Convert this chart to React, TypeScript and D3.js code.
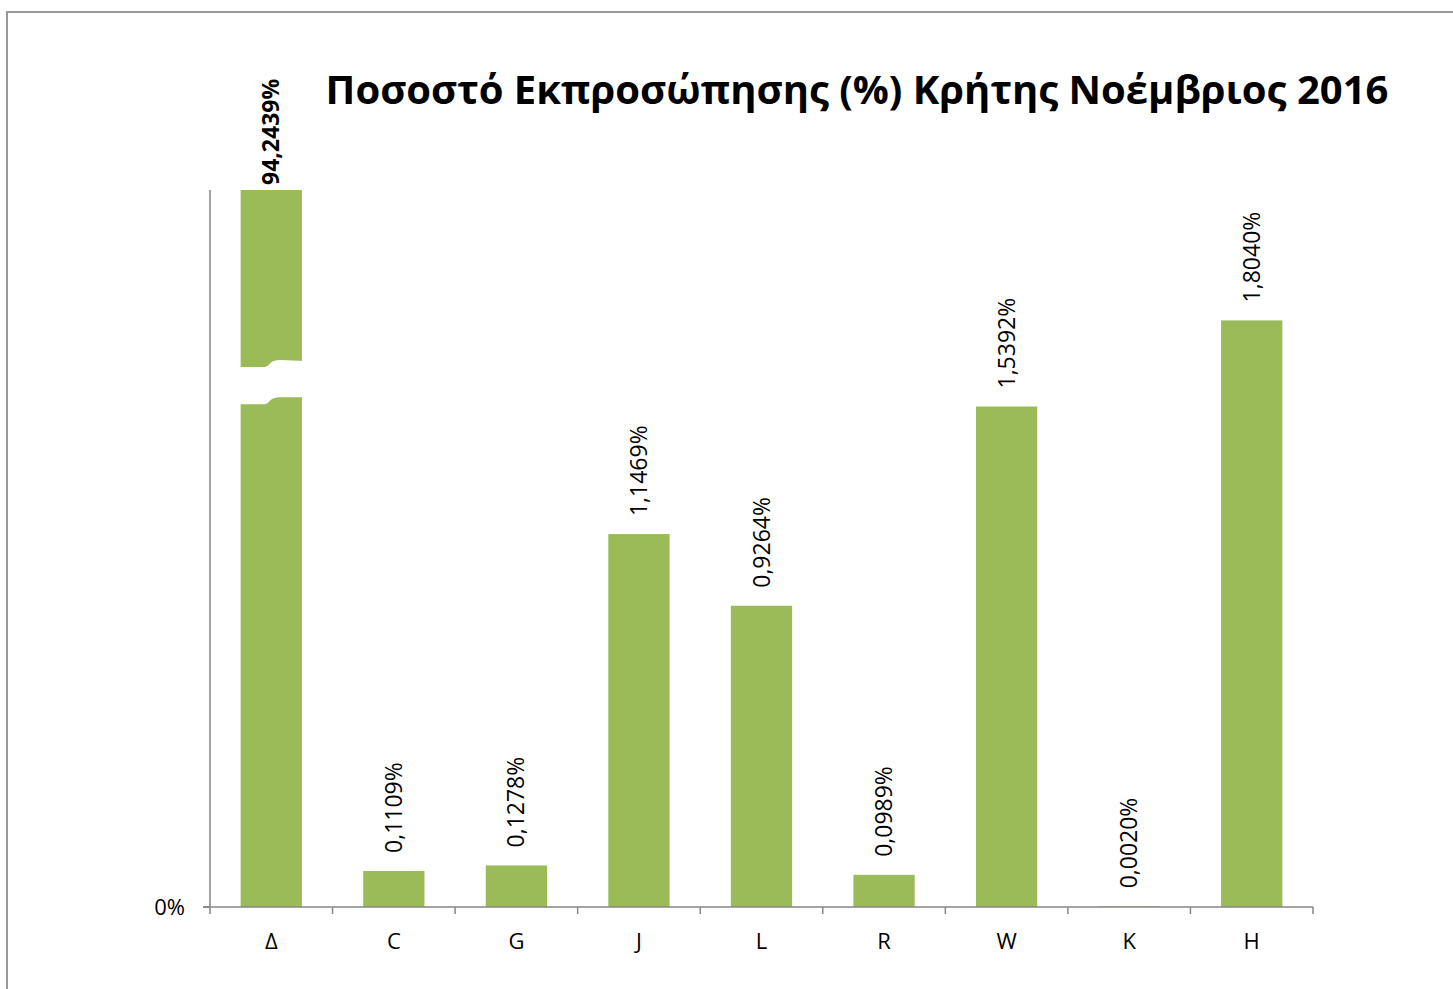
import React from 'react';
import * as d3 from 'd3';

const categories = ['Δ', 'C', 'G', 'J', 'L', 'R', 'W', 'K', 'H'];
const shares = [94.2439, 0.1109, 0.1278, 1.1469, 0.9264, 0.0989, 1.5392, 0.002, 1.804];
const yTickLabels = ['0%'];
const title = 'Ποσοστό Εκπροσώπησης (%) Κρήτης Νοέμβριος 2016';

const W = 1453;
const H = 989;
const barColor = '#9BBB59';
const axisColor = '#868686';
const font = '"Open Sans", "Liberation Sans", sans-serif';

const fmt = (v: number) => v.toFixed(4).replace('.', ',') + '%';

const App = () => {
  const x = d3.scaleBand<string>()
    .domain(categories)
    .range([210, 1313])
    .paddingInner(0.5)
    .paddingOuter(0.25);

  // axis top is cut at ~2.2%, the big bar is broken
  const y = d3.scaleLinear().domain([0, 2.205]).range([907, 190]).clamp(true);
  const step = x.step();
  const bw = x.bandwidth();

  // break in the first bar
  const bx = x(categories[0])! - 2;
  const bTop = y(1.682);
  const bBot = y(1.568);
  const mid = bx + bw / 2 + 2;
  const right = bx + bw + 4;
  const breakPath = d3.path();
  breakPath.moveTo(bx, bTop + 7);
  breakPath.lineTo(mid - 8, bTop + 7);
  breakPath.bezierCurveTo(mid, bTop + 7, mid - 4, bTop, mid + 10, bTop);
  breakPath.lineTo(right, bTop + 1);
  breakPath.lineTo(right, bBot);
  breakPath.lineTo(mid + 10, bBot);
  breakPath.bezierCurveTo(mid - 4, bBot, mid, bBot + 7, mid - 8, bBot + 7);
  breakPath.lineTo(bx, bBot + 7);
  breakPath.closePath();

  const boundaries = d3.range(categories.length + 1).map(i => x.range()[0] + i * step);

  return (
    <svg width={W} height={H} style={{ position: 'absolute', left: 0, top: 0, background: '#fff' }}>
      <rect x={7} y={12} width={1500} height={1000} fill="#fff" stroke="#999" strokeWidth={2} />
      <text x={857} y={104} textAnchor="middle" fontFamily={font} fontWeight="bold" fontSize={40} fill="#000">
        {title}
      </text>

      {categories.map((c, i) => (
        <rect key={c} x={x(c)} y={y(shares[i])} width={bw} height={y(0) - y(shares[i])} fill={barColor} />
      ))}
      <path d={breakPath.toString()} fill="#fff" />

      {categories.map((c, i) => {
        const cx = x(c)! + bw / 2;
        const top = y(shares[i]);
        const big = shares[i] > y.domain()[1];
        const yy = big ? top - 5 : top - 18;
        return (
          <text key={c} transform={`translate(${cx},${yy}) rotate(-90)`} dy="0.35em"
            fontFamily={font} fontSize={23} fontWeight={big ? 'bold' : 'normal'} fill="#000">
            {fmt(shares[i])}
          </text>
        );
      })}

      <line x1={210} x2={210} y1={190} y2={y(0)} stroke={axisColor} strokeWidth={1.5} />
      <line x1={203} x2={210} y1={y(0)} y2={y(0)} stroke={axisColor} strokeWidth={1.5} />
      <text x={185} y={y(0)} dy="0.35em" textAnchor="end" fontFamily={font} fontSize={22} fill="#000">
        {yTickLabels[0]}
      </text>

      <line x1={203} x2={1313} y1={y(0)} y2={y(0)} stroke={axisColor} strokeWidth={1.5} />
      {boundaries.map((b, i) => (
        <line key={i} x1={b} x2={b} y1={y(0)} y2={y(0) + 7} stroke={axisColor} strokeWidth={1.5} />
      ))}
      {categories.map(c => (
        <text key={c} x={x(c)! + bw / 2} y={941} dy="0.35em" textAnchor="middle" fontFamily={font} fontSize={22} fill="#000">
          {c}
        </text>
      ))}
    </svg>
  );
};

export default App;
